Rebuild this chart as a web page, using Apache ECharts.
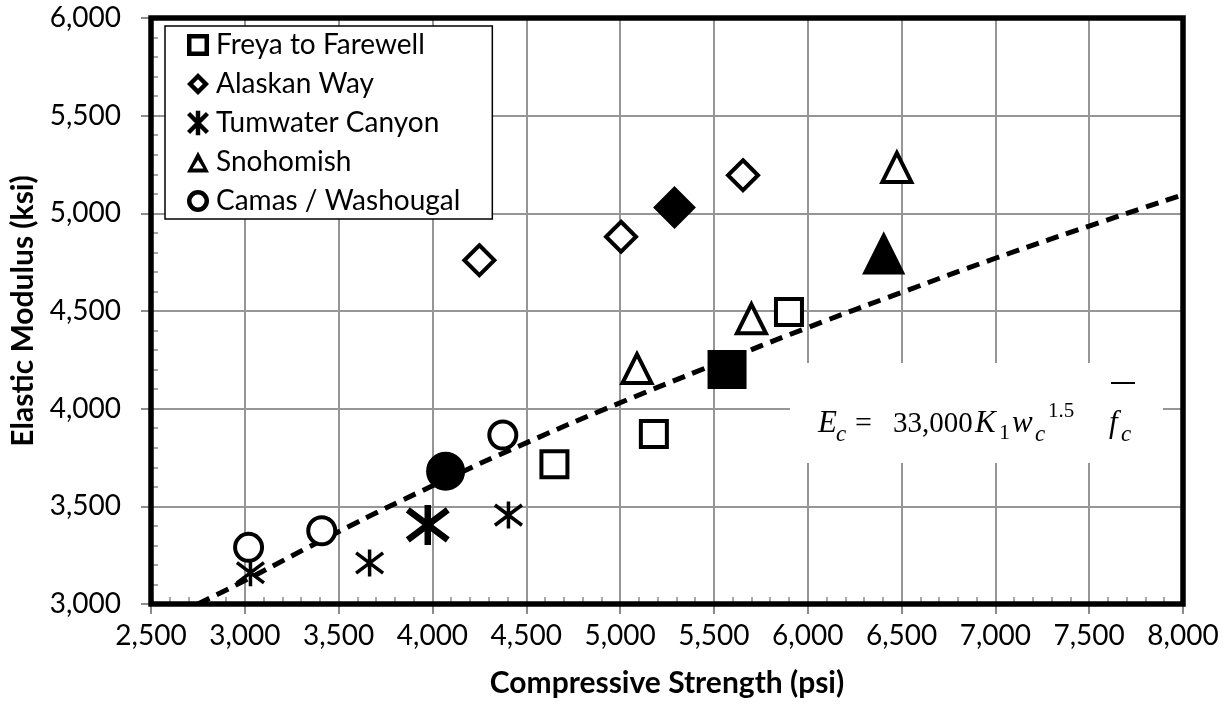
<!DOCTYPE html>
<html>
<head>
<meta charset="utf-8">
<script src="https://cdn.jsdelivr.net/npm/echarts@6/dist/echarts.min.js"></script>
<style>
html,body{margin:0;padding:0;background:#fff;}
#chart{width:1231px;height:712px;}
</style>
</head>
<body>
<div id="chart"></div>
<script>
// ---- axis ticks ----
const xTicks = [2500, 3000, 3500, 4000, 4500, 5000, 5500, 6000, 6500, 7000, 7500, 8000];
const yTicks = [3000, 3500, 4000, 4500, 5000, 5500, 6000];

// ---- series names ----
const seriesNames = ['Freya to Farewell', 'Alaskan Way', 'Tumwater Canyon', 'Snohomish', 'Camas / Washougal'];

// ---- individual results (psi, ksi) ----
const freyaX = [4650, 5180, 5900];
const freyaY = [3715, 3870, 4495];
const freyaMean = [5570, 4200];

const alaskanX = [4250, 5005, 5655];
const alaskanY = [4760, 4880, 5195];
const alaskanMean = [5290, 5030];

const tumwaterX = [3030, 3665, 4405];
const tumwaterY = [3160, 3210, 3455];
const tumwaterMean = [3975, 3405];

const snohomishX = [5090, 5700, 6475];
const snohomishY = [4205, 4460, 5235];
const snohomishMean = [6405, 4795];

const camasX = [3020, 3410, 4375];
const camasY = [3290, 3375, 3865];
const camasMean = [4070, 3680];

// ---- ACI prediction curve ----
const aciX = [2750, 3000, 3500, 4000, 4500, 5000, 5500, 6000, 6500, 7000, 7500, 8000];
const aciY = [3000, 3120, 3370, 3605, 3825, 4030, 4225, 4415, 4595, 4770, 4935, 5095];

const asterisk = 'path://M10,0 L10,20 M2.5,2.5 L17.5,17.5 M2.5,17.5 L17.5,2.5';

// bold legend icons drawn as filled rings
const legendIcons = [
  'path://M0,0H22V22H0Z M4.5,4.5V17.5H17.5V4.5Z',
  'path://M11,0L22,11L11,22L0,11Z M11,6.2L6.2,11L11,15.8L15.8,11Z',
  'path://M9,0H13V22H9Z M1.1,3.9L3.9,1.1L20.9,18.1L18.1,20.9Z M18.1,1.1L20.9,3.9L3.9,20.9L1.1,18.1Z',
  'path://M11,0L22,21H0Z M11,8.5L5.6,17H16.4Z',
  'path://M11,0A11,11 0 1,1 11,22A11,11 0 1,1 11,0Z M11,4.5A6.5,6.5 0 1,0 11,17.5A6.5,6.5 0 1,0 11,4.5Z'
];

const FONT = 'Lato, "Open Sans", sans-serif';
const SERIF = '"Liberation Serif", "DejaVu Serif", serif';

function buildData(xs, ys, mean, bigSize, bigBw) {
  const d = xs.map((x, i) => ({ value: [x, ys[i]] }));
  d.push({
    value: mean,
    symbolSize: bigSize,
    itemStyle: { color: '#000', borderColor: '#000', borderWidth: bigBw }
  });
  return d;
}

function scatter(name, symbol, data, size, bw) {
  return {
    name: name,
    type: 'scatter',
    symbol: symbol,
    symbolSize: size,
    data: data,
    z: 5,
    itemStyle: { color: '#fff', borderColor: '#000', borderWidth: bw, opacity: 1 },
    emphasis: { disabled: true }
  };
}

function eqText(id, x, y, text, font) {
  return { id: id, type: 'text', z: 2, x: x, y: y,
    style: { text: text, font: font, fill: '#000', verticalAlign: 'middle' } };
}

const chart = echarts.init(document.getElementById('chart'), null, { renderer: 'canvas' });

const fmt = v => v.toLocaleString('en-US');

const axisCommon = {
  type: 'value',
  interval: 500,
  nameLocation: 'middle',
  nameTextStyle: { fontFamily: FONT, fontWeight: 'bold', fontSize: 30, color: '#000' },
  axisLine: { show: false },
  axisTick: { show: true, length: 10, lineStyle: { color: '#8c8c8c', width: 2 } },
  minorTick: { show: true, splitNumber: 5, length: -7, lineStyle: { color: '#8c8c8c', width: 1.5 } },
  splitLine: { show: true, lineStyle: { color: '#969696', width: 2 } }
};

const option = {
  animation: false,
  backgroundColor: '#fff',
  grid: { left: 148, right: 48, top: 18, bottom: 108, show: false },
  xAxis: Object.assign({}, axisCommon, {
    min: xTicks[0], max: xTicks[xTicks.length - 1],
    name: 'Compressive Strength (psi)', nameGap: 64,
    axisLabel: { fontFamily: FONT, fontSize: 28, color: '#000', margin: 18, formatter: fmt }
  }),
  yAxis: Object.assign({}, axisCommon, {
    min: yTicks[0], max: yTicks[yTicks.length - 1],
    name: 'Elastic Modulus (ksi)', nameGap: 113, nameRotate: 90,
    axisLabel: { fontFamily: FONT, fontSize: 28, color: '#000', margin: 30, formatter: fmt }
  }),
  legend: {
    left: 165, top: 26,
    orient: 'vertical',
    padding: [5, 32, 4, 22],
    itemGap: 11,
    itemWidth: 22, itemHeight: 28,
    backgroundColor: '#fff',
    borderColor: '#000', borderWidth: 1.5, borderRadius: 0,
    textStyle: { fontFamily: FONT, fontSize: 28, lineHeight: 28, color: '#000', padding: [0, 0, 0, 2] },
    itemStyle: { color: '#000', borderWidth: 0, opacity: 1 },
    data: seriesNames.map((n, i) => ({ name: n, icon: legendIcons[i], itemStyle: { color: '#000', borderWidth: 0 } })),
    selectedMode: false
  },
  graphic: {
    elements: [
      { id: 'eqbox', type: 'rect', z: 1, shape: { x: 790, y: 363, width: 373, height: 100 }, style: { fill: '#fff' } },
      eqText('e1', 818, 424, 'E', 'italic 31px ' + SERIF),
      eqText('e2', 836, 435, 'c', 'italic 23px ' + SERIF),
      eqText('e3', 855, 424, '=', '30px ' + SERIF),
      eqText('e4', 893, 424, '33,000', '29px ' + SERIF),
      eqText('e5', 975, 424, 'K', 'italic 31px ' + SERIF),
      eqText('e6', 999, 433, '1', '22px ' + SERIF),
      eqText('e7', 1012, 424, 'w', 'italic 31px ' + SERIF),
      eqText('e8', 1035, 435, 'c', 'italic 23px ' + SERIF),
      eqText('e9', 1048, 411, '1.5', '21px ' + SERIF),
      eqText('e10', 1109, 424, 'f', 'italic 31px ' + SERIF),
      eqText('e11', 1121, 435, 'c', 'italic 23px ' + SERIF),
      { id: 'eqbar', type: 'line', z: 2, shape: { x1: 1111, y1: 383, x2: 1135, y2: 383 }, style: { stroke: '#000', lineWidth: 2 } }
    ]
  },
  series: [
    {
      name: 'ACI',
      type: 'line',
      data: aciX.map((x, i) => [x, aciY[i]]),
      smooth: true,
      showSymbol: false,
      z: 3,
      lineStyle: { color: '#000', width: 5, type: [13, 8] },
      emphasis: { disabled: true }
    },
    scatter(seriesNames[0], 'rect', buildData(freyaX, freyaY, freyaMean, 36, 3), 26, 4),
    scatter(seriesNames[1], 'diamond', buildData(alaskanX, alaskanY, alaskanMean, 40, 2), 30, 4),
    scatter(seriesNames[2], asterisk, buildData(tumwaterX, tumwaterY, tumwaterMean, 40, 6.5), 27, 3.5),
    scatter(seriesNames[3], 'triangle', buildData(snohomishX, snohomishY, snohomishMean, 40, 2), 29, 4),
    scatter(seriesNames[4], 'circle', buildData(camasX, camasY, camasMean, 37, 2), 27, 4)
  ]
};

chart.setOption(option);

// thick black frame around the plot area, placed through the axes' own scales
const p0 = chart.convertToPixel({ gridIndex: 0 }, [xTicks[0], yTicks[yTicks.length - 1]]);
const p1 = chart.convertToPixel({ gridIndex: 0 }, [xTicks[xTicks.length - 1], yTicks[0]]);
chart.setOption({
  graphic: {
    elements: [
      { id: 'frame', type: 'rect', z: 4,
        shape: { x: p0[0], y: p0[1], width: p1[0] - p0[0], height: p1[1] - p0[1] },
        style: { fill: 'none', stroke: '#000', lineWidth: 5.5 } }
    ]
  }
});
</script>
</body>
</html>
